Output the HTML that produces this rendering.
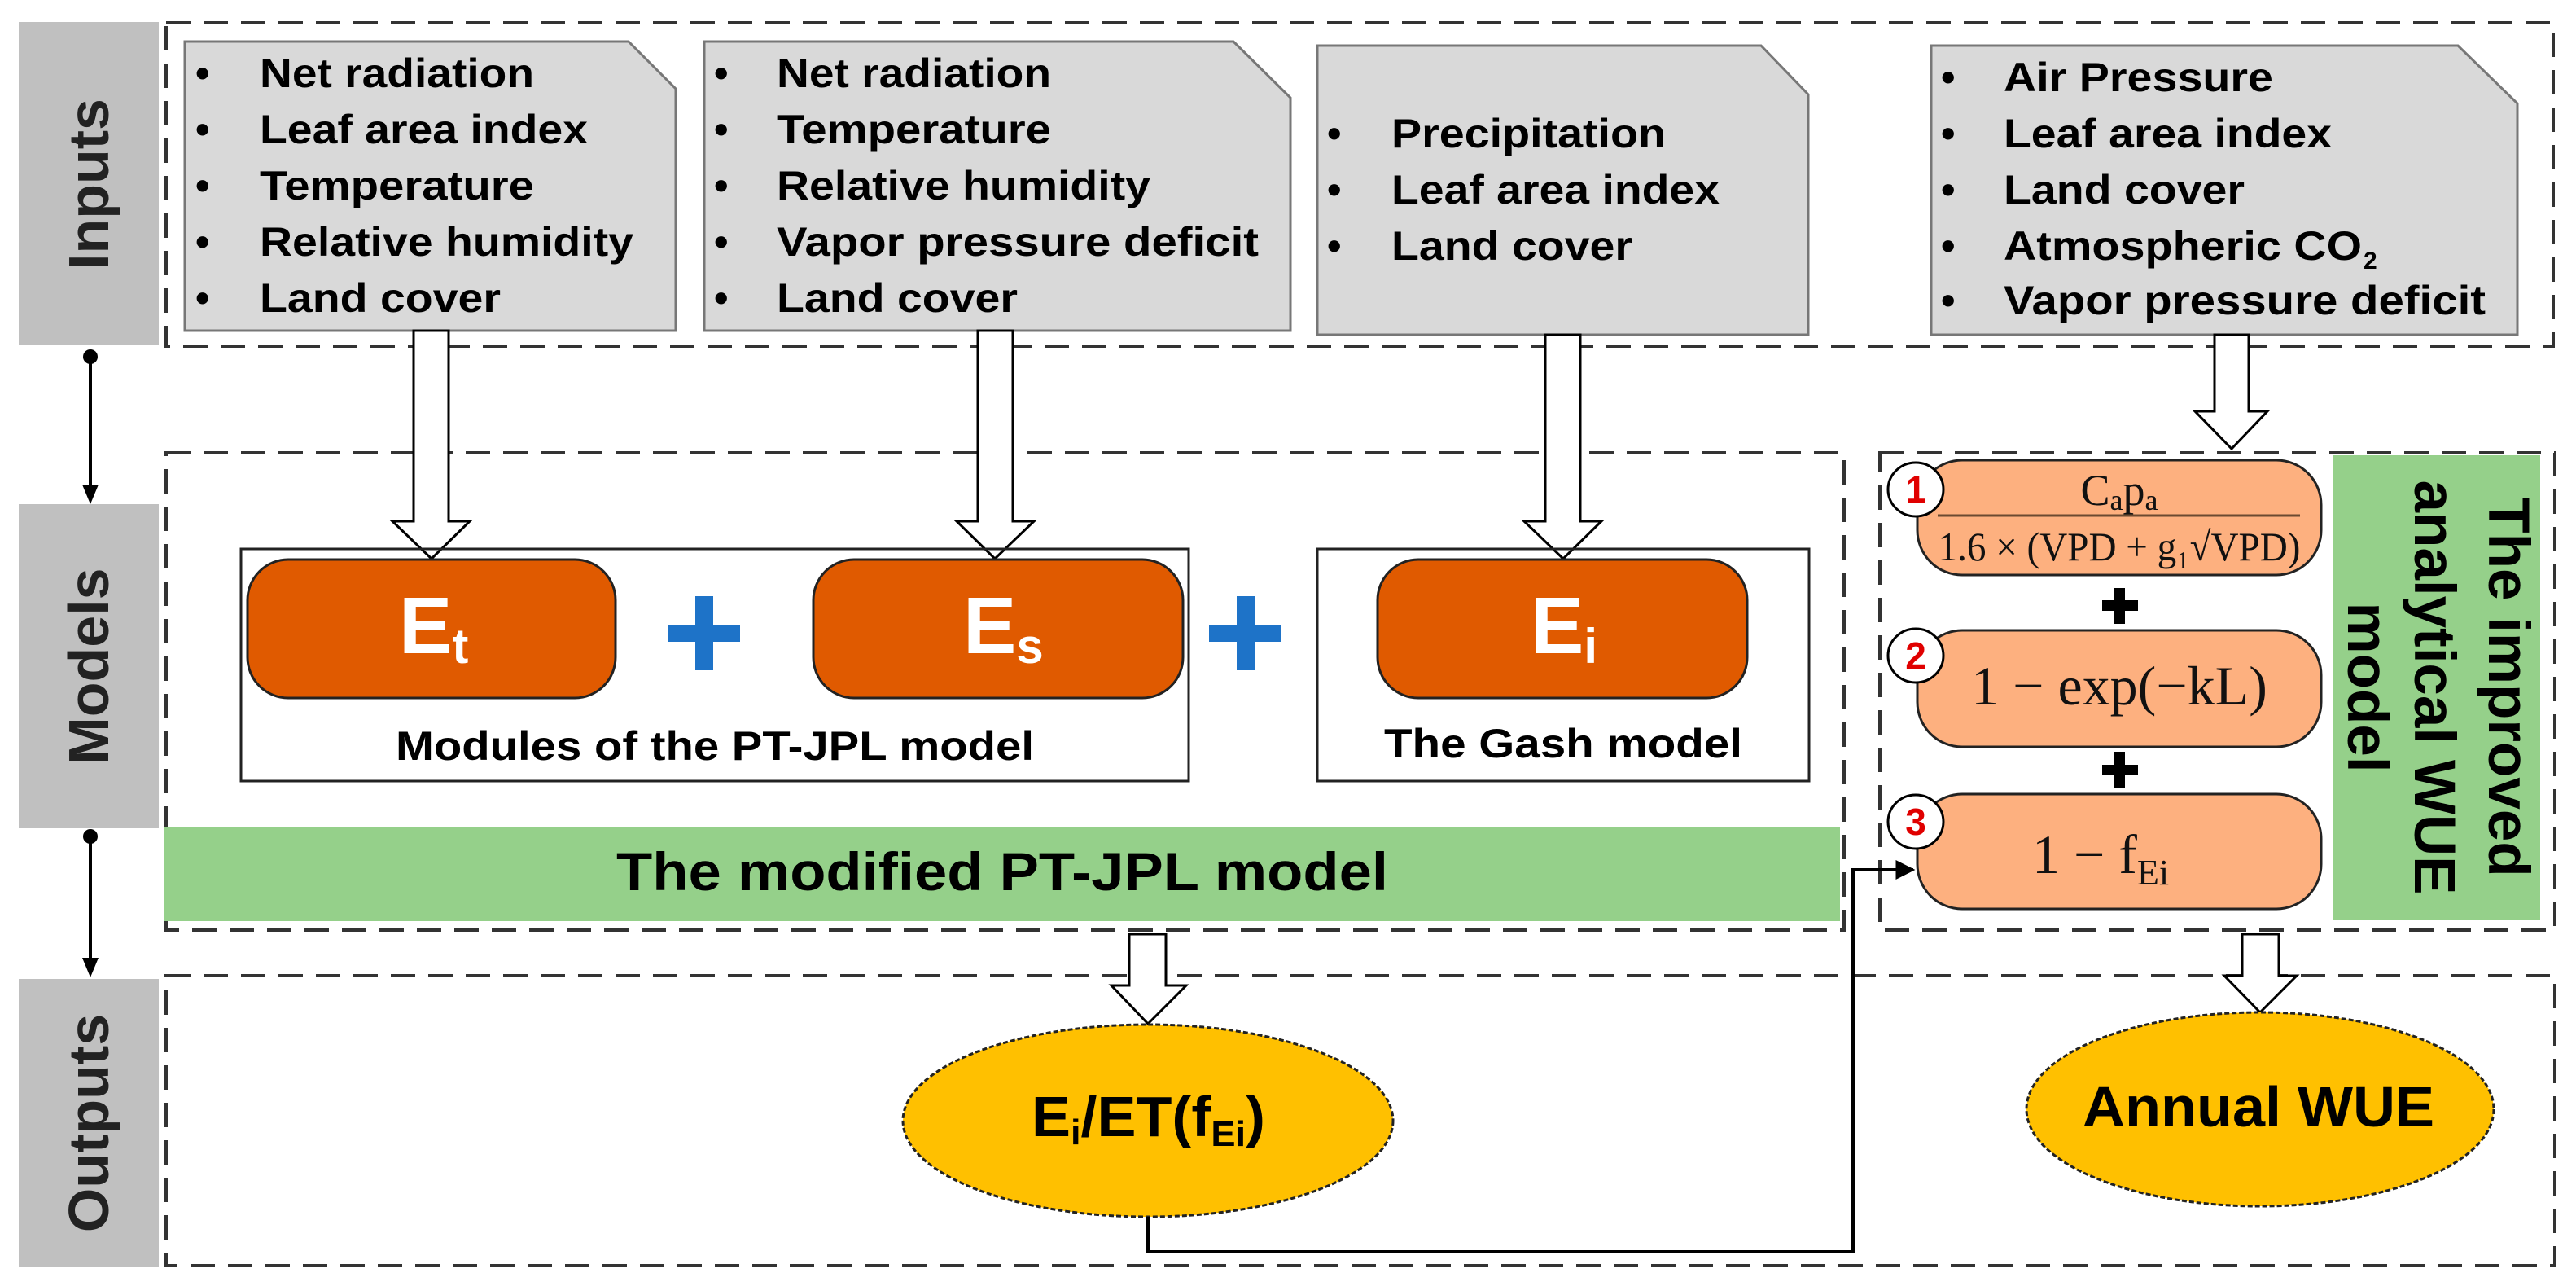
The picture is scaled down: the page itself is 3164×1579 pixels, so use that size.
<!DOCTYPE html>
<html><head><meta charset="utf-8"><style>
html,body{margin:0;padding:0;background:#fff}
svg{display:block}
text{font-family:"Liberation Sans",Arial,sans-serif;font-weight:bold}
.it{font-size:50px;fill:#000}
.m{font-family:"Liberation Serif",serif;font-weight:normal;fill:#111}
</style></head><body>
<svg width="3164" height="1579" viewBox="0 0 3164 1579" xmlns="http://www.w3.org/2000/svg">
<defs>
<marker id="ah" viewBox="0 0 10 10" refX="9" refY="5" markerWidth="6" markerHeight="6" orient="auto"><path d="M0,0 L10,5 L0,10 z" fill="#000"/></marker>
</defs>
<rect x="23" y="27" width="172" height="397" fill="#c0c0c0"/>
<rect x="23" y="619" width="172" height="398" fill="#c0c0c0"/>
<rect x="23" y="1202" width="172" height="354" fill="#c0c0c0"/>
<text transform="translate(133,226) rotate(-90)" text-anchor="middle" font-size="70" fill="#222">Inputs</text>
<text transform="translate(133,818) rotate(-90)" text-anchor="middle" font-size="70" fill="#222">Models</text>
<text transform="translate(133,1379) rotate(-90)" text-anchor="middle" font-size="70" fill="#222">Outputs</text>
<circle cx="111" cy="438" r="9" fill="#000"/>
<line x1="111" y1="438" x2="111" y2="600" stroke="#000" stroke-width="4"/>
<path d="M101,595 L121,595 L111,619 z" fill="#000"/>
<circle cx="111" cy="1027" r="9" fill="#000"/>
<line x1="111" y1="1027" x2="111" y2="1180" stroke="#000" stroke-width="4"/>
<path d="M101,1176 L121,1176 L111,1200 z" fill="#000"/>
<g fill="none" stroke="#333" stroke-width="4" stroke-dasharray="30,16">
<rect x="204" y="28" width="2932" height="397"/>
<rect x="204" y="556" width="2061" height="586"/>
<rect x="2309" y="556" width="829" height="586"/>
<rect x="204" y="1198" width="2934" height="356"/>
</g>
<g fill="#d9d9d9" stroke="#777" stroke-width="3">
<path d="M227,51 L772,51 L830,109 L830,406 L227,406 z"/>
<path d="M865,51 L1515,51 L1585,120 L1585,406 L865,406 z"/>
<path d="M1618,56 L2163,56 L2221,116 L2221,411 L1618,411 z"/>
<path d="M2372,56 L3019,56 L3092,127 L3092,411 L2372,411 z"/>
</g>
<g class="it">
<text x="240" y="107">•</text><text x="319" y="107" textLength="337" lengthAdjust="spacingAndGlyphs">Net radiation</text>
<text x="240" y="176">•</text><text x="319" y="176" textLength="403" lengthAdjust="spacingAndGlyphs">Leaf area index</text>
<text x="240" y="245">•</text><text x="319" y="245" textLength="337" lengthAdjust="spacingAndGlyphs">Temperature</text>
<text x="240" y="314">•</text><text x="319" y="314" textLength="459" lengthAdjust="spacingAndGlyphs">Relative humidity</text>
<text x="240" y="383">•</text><text x="319" y="383" textLength="296" lengthAdjust="spacingAndGlyphs">Land cover</text>

<text x="877" y="107">•</text><text x="954" y="107" textLength="337" lengthAdjust="spacingAndGlyphs">Net radiation</text>
<text x="877" y="176">•</text><text x="954" y="176" textLength="337" lengthAdjust="spacingAndGlyphs">Temperature</text>
<text x="877" y="245">•</text><text x="954" y="245" textLength="459" lengthAdjust="spacingAndGlyphs">Relative humidity</text>
<text x="877" y="314">•</text><text x="954" y="314" textLength="592" lengthAdjust="spacingAndGlyphs">Vapor pressure deficit</text>
<text x="877" y="383">•</text><text x="954" y="383" textLength="296" lengthAdjust="spacingAndGlyphs">Land cover</text>

<text x="1630" y="181">•</text><text x="1709" y="181" textLength="337" lengthAdjust="spacingAndGlyphs">Precipitation</text>
<text x="1630" y="250">•</text><text x="1709" y="250" textLength="403" lengthAdjust="spacingAndGlyphs">Leaf area index</text>
<text x="1630" y="319">•</text><text x="1709" y="319" textLength="296" lengthAdjust="spacingAndGlyphs">Land cover</text>

<text x="2384" y="112">•</text><text x="2461" y="112" textLength="331" lengthAdjust="spacingAndGlyphs">Air Pressure</text>
<text x="2384" y="181">•</text><text x="2461" y="181" textLength="403" lengthAdjust="spacingAndGlyphs">Leaf area index</text>
<text x="2384" y="250">•</text><text x="2461" y="250" textLength="296" lengthAdjust="spacingAndGlyphs">Land cover</text>
<text x="2384" y="319">•</text><text x="2461" y="319" textLength="440" lengthAdjust="spacingAndGlyphs">Atmospheric CO</text><text x="2903" y="330" font-size="30">2</text>
<text x="2384" y="386">•</text><text x="2461" y="386" textLength="592" lengthAdjust="spacingAndGlyphs">Vapor pressure deficit</text>
</g>
<g fill="#fff" stroke="#000" stroke-width="3">
<path d="M508,406 L551,406 L551,640 L577,640 L530,686 L482,640 L508,640 z"/>
<path d="M1201,406 L1244,406 L1244,640 L1270,640 L1222,686 L1175,640 L1201,640 z"/>
<path d="M1898,411 L1941,411 L1941,640 L1967,640 L1920,686 L1872,640 L1898,640 z"/>
<path d="M2720,411 L2762,411 L2762,505 L2785,505 L2741,551 L2696,505 L2720,505 z"/>
<path d="M1387,1147 L1432,1147 L1432,1210 L1457,1210 L1410,1257 L1365,1210 L1387,1210 z"/>
<path d="M2754,1147 L2799,1147 L2799,1198 L2821,1198 L2776,1243 L2732,1198 L2754,1198 z"/>
</g>
<rect x="296" y="674" width="1164" height="285" fill="none" stroke="#222" stroke-width="3"/>
<rect x="1618" y="674" width="604" height="285" fill="none" stroke="#222" stroke-width="3"/>
<g fill="#e05a00" stroke="#222" stroke-width="3">
<rect x="304" y="687" width="452" height="170" rx="50"/>
<rect x="999" y="687" width="454" height="170" rx="50"/>
<rect x="1692" y="687" width="454" height="170" rx="50"/>
</g>
<g fill="#fff" font-size="98">
<text x="490" y="802">E<tspan font-size="60" dy="12">t</tspan></text>
<text x="1183" y="802">E<tspan font-size="60" dy="12">s</tspan></text>
<text x="1880" y="802">E<tspan font-size="60" dy="12">i</tspan></text>
</g>
<g fill="#1e73c8">
<rect x="854" y="732" width="22" height="91"/><rect x="820" y="767" width="89" height="21"/>
<rect x="1519" y="732" width="22" height="91"/><rect x="1485" y="767" width="89" height="21"/>
</g>
<text x="878" y="933" text-anchor="middle" font-size="50" textLength="784" lengthAdjust="spacingAndGlyphs">Modules of the PT-JPL model</text>
<text x="1920" y="930" text-anchor="middle" font-size="50" textLength="440" lengthAdjust="spacingAndGlyphs">The Gash model</text>
<rect x="202" y="1015" width="2058" height="116" fill="#95d08a"/>
<text x="1231" y="1093" text-anchor="middle" font-size="66" textLength="948" lengthAdjust="spacingAndGlyphs">The modified PT-JPL model</text>
<rect x="2865" y="559" width="255" height="570" fill="#95d08a"/>
<g font-size="71" fill="#000" text-anchor="middle">
<text transform="translate(3057,844) rotate(90)">The improved</text>
<text transform="translate(2966,844) rotate(90)">analytical WUE</text>
<text transform="translate(2884,844) rotate(90)">model</text>
</g>
<g fill="#fdb07f" stroke="#222" stroke-width="3">
<rect x="2355" y="565" width="496" height="141" rx="55"/>
<rect x="2355" y="774" width="496" height="143" rx="55"/>
<rect x="2355" y="975" width="496" height="141" rx="55"/>
</g>
<line x1="2380" y1="633" x2="2825" y2="633" stroke="#6b4a30" stroke-width="3"/>
<text class="m" x="2603" y="620" text-anchor="middle" font-size="54">C<tspan font-size="36" dy="6">a</tspan><tspan dy="-6">p</tspan><tspan font-size="36" dy="6">a</tspan></text>
<text class="m" x="2603" y="688" text-anchor="middle" font-size="50" textLength="445" lengthAdjust="spacingAndGlyphs">1.6 × (VPD + g₁√VPD)</text>
<text class="m" x="2603" y="865" text-anchor="middle" font-size="68">1 − exp(−kL)</text>
<text class="m" x="2580" y="1072" text-anchor="middle" font-size="68">1 − f<tspan font-size="44" dy="14">Ei</tspan></text>
<g fill="#000">
<rect x="2597" y="722" width="13" height="44"/><rect x="2582" y="737" width="44" height="13"/>
<rect x="2597" y="923" width="13" height="44"/><rect x="2582" y="939" width="44" height="13"/>
</g>
<g fill="#fff" stroke="#000" stroke-width="3">
<ellipse cx="2353" cy="601" rx="34" ry="33"/>
<ellipse cx="2353" cy="805" rx="34" ry="33"/>
<ellipse cx="2353" cy="1009" rx="34" ry="33"/>
</g>
<g fill="#e00000" font-size="46" text-anchor="middle">
<text x="2353" y="617">1</text><text x="2353" y="821">2</text><text x="2353" y="1025">3</text>
</g>
<ellipse cx="1410" cy="1376" rx="301" ry="118" fill="#ffc000" stroke="#222" stroke-width="3" stroke-dasharray="6,3"/>
<ellipse cx="2776" cy="1362" rx="287" ry="119" fill="#ffc000" stroke="#222" stroke-width="3" stroke-dasharray="6,3"/>
<text x="1267" y="1395" font-size="70" textLength="287" lengthAdjust="spacingAndGlyphs">E<tspan font-size="44" dy="10">i</tspan><tspan dy="-10">/ET(f</tspan><tspan font-size="44" dy="12">Ei</tspan><tspan dy="-12">)</tspan></text>
<text x="2774" y="1383" text-anchor="middle" font-size="70" textLength="432" lengthAdjust="spacingAndGlyphs">Annual WUE</text>
<path d="M1410,1494 L1410,1537 L2276,1537 L2276,1068 L2350,1068" fill="none" stroke="#000" stroke-width="4" marker-end="url(#ah)"/>
</svg>
</body></html>
